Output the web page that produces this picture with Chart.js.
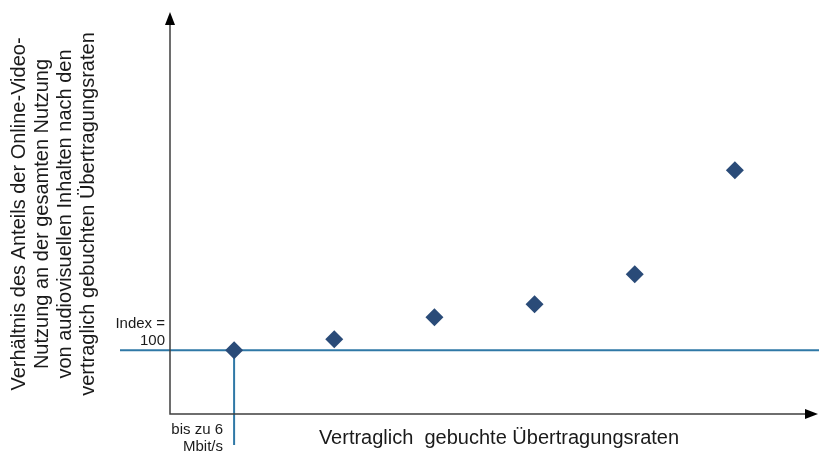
<!DOCTYPE html>
<html>
<head>
<meta charset="utf-8">
<script src="https://cdn.jsdelivr.net/npm/chart.js@4/dist/chart.umd.min.js"></script>
<style>
  html, body { margin: 0; padding: 0; background: #fff; }
  #wrap { width: 819px; height: 455px; position: relative; }
</style>
</head>
<body>
<div id="wrap"><canvas id="c"></canvas></div>
<script>
// Daten (Index, erste Kategorie = 100)
const categories = ['bis zu 6 Mbit/s', 'Stufe 2', 'Stufe 3', 'Stufe 4', 'Stufe 5', 'Stufe 6'];
const indexValues = [100, 103.4, 110.3, 114.4, 123.8, 156.3];
const referenceValue = 100;
const yTitleLines = [
  'Verhältnis des Anteils der Online-Video-',
  'Nutzung an der gesamten Nutzung',
  'von audiovisuellen Inhalten nach den',
  'vertraglich gebuchten Übertragungsraten'
];
const xTitle = 'Vertraglich  gebuchte Übertragungsraten';
const refLabel = ['Index =', '100'];
const firstCatLabel = ['bis zu 6', 'Mbit/s'];

const FONT = '"Liberation Sans", Arial, sans-serif';
const AXIS_COLOR = '#3f3f3f';
const LINE_COLOR = '#2f78a6';
const MARK_COLOR = '#2a4b78';

// Achsen, Pfeile, Referenzlinien und Beschriftungen
const decorations = {
  id: 'decorations',
  beforeDatasetsDraw(chart) {
    const { ctx, chartArea: a, scales: { x, y } } = chart;
    const yRef = y.getPixelForValue(referenceValue);
    const xFirst = x.getPixelForValue(0);
    const right = chart.width - 1;
    ctx.save();
    // Index-Linie
    ctx.strokeStyle = LINE_COLOR;
    ctx.lineWidth = 2;
    ctx.beginPath();
    ctx.moveTo(120, yRef);
    ctx.lineTo(chart.width, yRef);
    ctx.moveTo(xFirst, yRef);
    ctx.lineTo(xFirst, 445);
    ctx.stroke();
    // Achsen
    ctx.strokeStyle = AXIS_COLOR;
    ctx.lineWidth = 1.5;
    ctx.beginPath();
    ctx.moveTo(a.left, a.top + 8);
    ctx.lineTo(a.left, a.bottom);
    ctx.lineTo(right - 8, a.bottom);
    ctx.stroke();
    ctx.fillStyle = '#000';
    ctx.beginPath();
    ctx.moveTo(a.left, a.top);
    ctx.lineTo(a.left - 5, a.top + 13);
    ctx.lineTo(a.left + 5, a.top + 13);
    ctx.closePath();
    ctx.fill();
    ctx.beginPath();
    ctx.moveTo(right, a.bottom);
    ctx.lineTo(right - 13, a.bottom - 5);
    ctx.lineTo(right - 13, a.bottom + 5);
    ctx.closePath();
    ctx.fill();
    // Texte
    ctx.fillStyle = '#1a1a1a';
    ctx.font = '15px ' + FONT;
    ctx.textAlign = 'right';
    ctx.textBaseline = 'middle';
    ctx.fillText(refLabel[0], 165, 324);
    ctx.fillText(refLabel[1], 165, 341);
    ctx.fillText(firstCatLabel[0], 223, 430);
    ctx.fillText(firstCatLabel[1], 223, 447);
    ctx.font = '20px ' + FONT;
    ctx.textAlign = 'center';
    ctx.fillText(xTitle, 499, 438);
    ctx.translate(0, 214);
    ctx.rotate(-Math.PI / 2);
    yTitleLines.forEach((line, i) => ctx.fillText(line, 0, 19 + i * 23.3));
    ctx.restore();
  }
};

new Chart(document.getElementById('c'), {
  type: 'scatter',
  data: {
    labels: categories,
    datasets: [{
      data: indexValues.map((v, i) => ({ x: i, y: v })),
      pointStyle: 'rectRot',
      pointRadius: 9,
      pointHoverRadius: 9,
      backgroundColor: MARK_COLOR,
      borderColor: MARK_COLOR,
      borderWidth: 0
    }]
  },
  options: {
    responsive: true,
    maintainAspectRatio: false,
    animation: false,
    layout: { padding: { left: 170, right: 0, top: 12, bottom: 41 } },
    plugins: { legend: { display: false }, tooltip: { enabled: false } },
    scales: {
      x: { type: 'linear', min: -0.64, max: 5.75, display: false },
      y: { type: 'linear', min: 80, max: 205.9, display: false }
    }
  },
  plugins: [decorations]
});
</script>
</body>
</html>
